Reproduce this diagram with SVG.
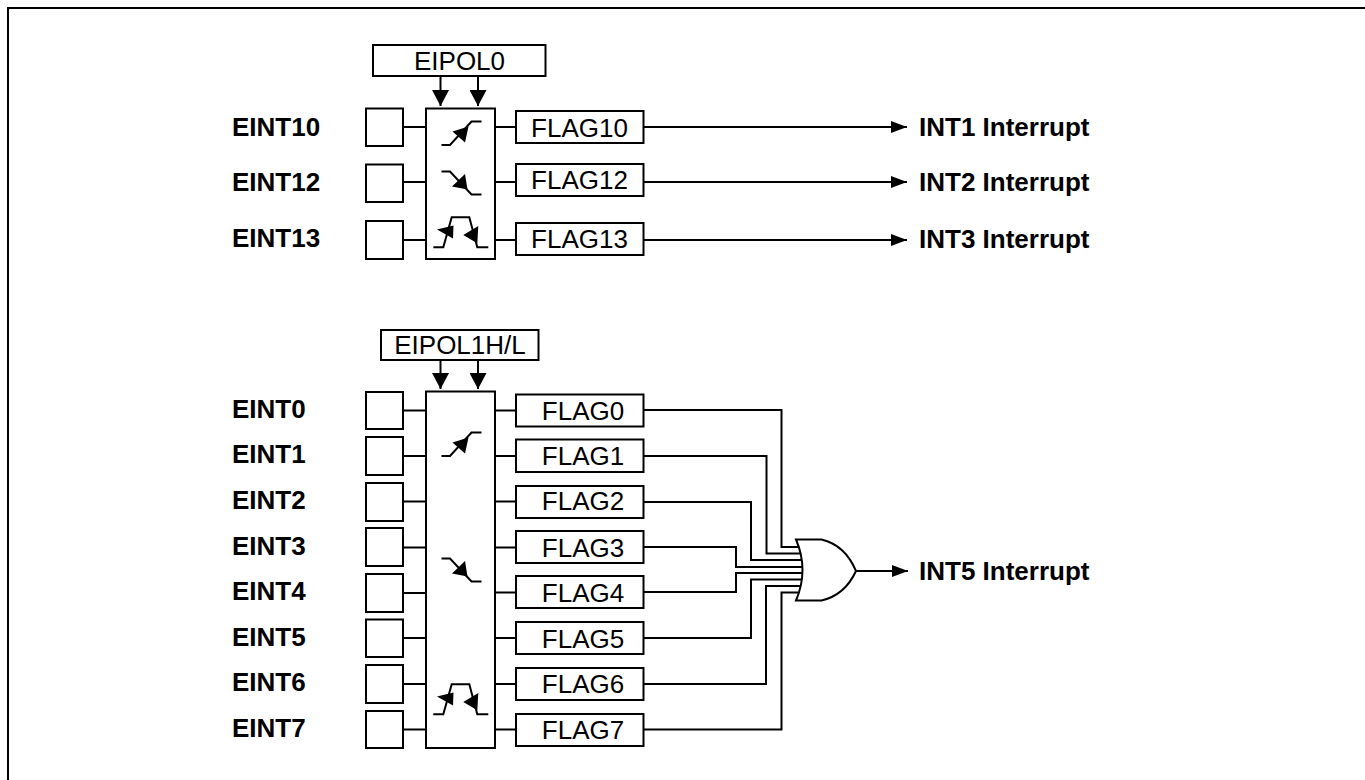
<svg xmlns="http://www.w3.org/2000/svg" width="1365" height="780" viewBox="0 0 1365 780">
<style>
text{font-family:"Liberation Sans",Arial,sans-serif;fill:#000}
.b{font-size:26px;font-weight:bold}
.r{font-size:26px;text-anchor:middle}
rect{fill:#fff;stroke:#000;stroke-width:2}
.w{fill:none;stroke:#000;stroke-width:2}
.h{fill:#000;stroke:none}
</style>
<defs>
<marker id="ah" markerUnits="userSpaceOnUse" markerWidth="17" markerHeight="12" refX="16" refY="6" orient="auto"><path d="M0 0L16 6L0 12Z" fill="#000"/></marker>
<marker id="ad" markerUnits="userSpaceOnUse" markerWidth="17" markerHeight="17" refX="16" refY="8.5" orient="auto"><path d="M0 0L16 8.500L0 17Z" fill="#000"/></marker>
<g id="rise"><path class="w" d="M-19.500 12H-11L10.500 -11.500H20.500"/><path class="h" d="M-8.500 -1.500L7.500 -6.500L4 9.500Z"/></g>
<g id="fall"><path class="w" d="M-19.500 -11.500H-11L10.500 11.500H20.500"/><path class="h" d="M-9 3.500L4 -9L6.500 6.500Z"/></g>
<g id="both"><path class="w" d="M-27.700 15.300H-17.700L-9.300 -14.700H8.300L16.300 15.300H27.300"/><path class="h" d="M-24 -2.500L-7.500 -6.500L-8 6.500Z"/><path class="h" d="M2.300 3L17.300 -6L16.300 11.300Z"/></g>
</defs>
<path id="frame" class="w" d="M8 780V8H1365"/>
<g id="connectors">
<path class="w" d="M440.500 76V106" marker-end="url(#ad)"/>
<path class="w" d="M478 76V106" marker-end="url(#ad)"/>
<path class="w" d="M440.500 360V389" marker-end="url(#ad)"/>
<path class="w" d="M478 360V389" marker-end="url(#ad)"/>
<path class="w" d="M403 127H426M403 182H426M403 240H426M495 127H516M495 182H516M495 240H516"/>
<path class="w" d="M403 410.500H426M403 456H426M403 501.500H426M403 547.500H426M403 593H426M403 638H426M403 684H426M403 729.500H426"/>
<path class="w" d="M495 410.500H516M495 456H516M495 501.500H516M495 547.500H516M495 592.500H516M495 638H516M495 684H516M495 729.500H516"/>
<path class="w" d="M643 127H907" marker-end="url(#ah)"/>
<path class="w" d="M643 182H907" marker-end="url(#ah)"/>
<path class="w" d="M643 240H907" marker-end="url(#ah)"/>
<path class="w" d="M856 571H908" marker-end="url(#ah)"/>
<path class="w" d="M643 410H781.500V547H798"/>
<path class="w" d="M643 456H766.500V553.500H800"/>
<path class="w" d="M643 502H751V560H801"/>
<path class="w" d="M643 547H736V567H802"/>
<path class="w" d="M643 592H736V573H802"/>
<path class="w" d="M643 638H751V579.500H801"/>
<path class="w" d="M643 684H766V586H800"/>
<path class="w" d="M643 729.500H781.500V592.500H798"/>
</g>
<g id="eipol0"><rect x="373" y="45" width="172.500" height="31"/><text class="r" x="459.500" y="70">EIPOL0</text></g>
<g id="eipol1"><rect x="381" y="330" width="157.500" height="30"/><text class="r" x="460" y="354">EIPOL1H/L</text></g>
<g id="det0"><rect x="426" y="108.500" width="69" height="150.500"/><use href="#rise" x="461" y="133"/><use href="#fall" x="461" y="183"/><use href="#both" x="461" y="232"/></g>
<g id="det1"><rect x="426" y="391.500" width="69" height="356.500"/><use href="#rise" x="461" y="444"/><use href="#fall" x="461" y="570"/><use href="#both" x="461" y="699"/></g>
<g id="in10"><rect x="366" y="108.500" width="37" height="37.500"/><text class="b" x="232" y="136">EINT10</text></g>
<g id="in12"><rect x="366" y="164.500" width="37" height="37.500"/><text class="b" x="232" y="191">EINT12</text></g>
<g id="in13"><rect x="366" y="221" width="37" height="38"/><text class="b" x="232" y="247">EINT13</text></g>
<g id="in0"><rect x="366" y="392" width="37" height="37"/><text class="b" x="232" y="418">EINT0</text></g>
<g id="in1"><rect x="366" y="437" width="37" height="38"/><text class="b" x="232" y="463">EINT1</text></g>
<g id="in2"><rect x="366" y="483" width="37" height="38"/><text class="b" x="232" y="509">EINT2</text></g>
<g id="in3"><rect x="366" y="528" width="37" height="38"/><text class="b" x="232" y="555">EINT3</text></g>
<g id="in4"><rect x="366" y="574" width="37" height="38"/><text class="b" x="232" y="600">EINT4</text></g>
<g id="in5"><rect x="366" y="619.500" width="37" height="37.500"/><text class="b" x="232" y="646">EINT5</text></g>
<g id="in6"><rect x="366" y="665" width="37" height="38"/><text class="b" x="232" y="691">EINT6</text></g>
<g id="in7"><rect x="366" y="711" width="37" height="37"/><text class="b" x="232" y="737">EINT7</text></g>
<g id="f10"><rect x="516" y="111" width="127.500" height="32"/><text class="r" x="579.500" y="136.500">FLAG10</text></g>
<g id="f12"><rect x="516" y="164" width="127.500" height="32"/><text class="r" x="579.500" y="189">FLAG12</text></g>
<g id="f13"><rect x="516" y="223" width="127.500" height="32"/><text class="r" x="579.500" y="248">FLAG13</text></g>
<g id="f0"><rect x="516" y="394.500" width="127.500" height="32"/><text class="r" x="583" y="419.500">FLAG0</text></g>
<g id="f1"><rect x="516" y="439.500" width="127.500" height="32.500"/><text class="r" x="583" y="465">FLAG1</text></g>
<g id="f2"><rect x="516" y="486" width="127.500" height="32"/><text class="r" x="583" y="510">FLAG2</text></g>
<g id="f3"><rect x="516" y="531" width="127.500" height="32"/><text class="r" x="583" y="556.500">FLAG3</text></g>
<g id="f4"><rect x="516" y="576" width="127.500" height="32"/><text class="r" x="583" y="601.500">FLAG4</text></g>
<g id="f5"><rect x="516" y="622" width="127.500" height="32"/><text class="r" x="583" y="647.500">FLAG5</text></g>
<g id="f6"><rect x="516" y="668" width="127.500" height="32"/><text class="r" x="583" y="693">FLAG6</text></g>
<g id="f7"><rect x="516" y="714" width="127.500" height="32"/><text class="r" x="583" y="739">FLAG7</text></g>
<g id="orgate"><path d="M796 539.500H821.500Q845 545 856 571Q845 595 821.500 600.500H796Q809 570 796 539.500Z" fill="none" stroke="#000" stroke-width="2"/></g>
<g id="out1"><text class="b" x="919" y="136">INT1 Interrupt</text></g>
<g id="out2"><text class="b" x="919" y="191">INT2 Interrupt</text></g>
<g id="out3"><text class="b" x="919" y="248">INT3 Interrupt</text></g>
<g id="out5"><text class="b" x="919" y="580">INT5 Interrupt</text></g>
</svg>
